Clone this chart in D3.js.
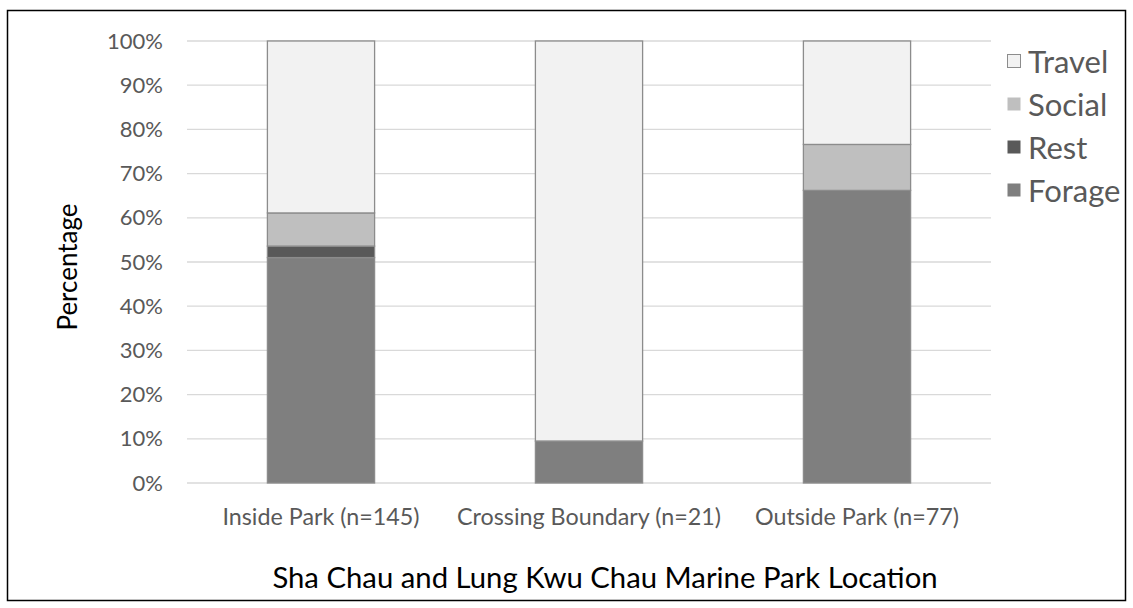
<!DOCTYPE html>
<html><head><meta charset="utf-8">
<script src="https://cdn.jsdelivr.net/npm/d3@7/dist/d3.min.js"></script>
<style>body{margin:0;background:#fff}svg{display:block}</style>
</head><body><svg id="c" width="1133" height="608"></svg>
<script>
const categories = ["Inside Park (n=145)", "Crossing Boundary (n=21)", "Outside Park (n=77)"];
const seriesNames = ["Forage", "Rest", "Social", "Travel"];
const forage = [51.0, 9.5, 66.2];
const rest = [2.6, 0, 0];
const social = [7.5, 0, 10.4];
const travel = [38.9, 90.5, 23.4];
const yTicks = [0,10,20,30,40,50,60,70,80,90,100];
const colors = {Forage:"#7f7f7f", Rest:"#595959", Social:"#bfbfbf", Travel:"#f2f2f2"};
const legendOrder = ["Travel","Social","Rest","Forage"];

const svg = d3.select("#c");
const font = "Lato, 'Open Sans', sans-serif";
svg.append("rect").attr("x",7.5).attr("y",10.5).attr("width",1118).attr("height",590)
  .attr("fill","#fff").attr("stroke","#000").attr("stroke-width",1.5);

const m = {left:187, right:991, top:41, bottom:483};
const x = d3.scaleBand().domain(categories).range([m.left,m.right]).paddingInner(0.6).paddingOuter(0.3);
const y = d3.scaleLinear().domain([0,100]).range([m.bottom,m.top]);

const g = svg.append("g");
g.selectAll("line.grid").data(yTicks).join("line")
  .attr("x1",m.left).attr("x2",m.right).attr("y1",d=>y(d)).attr("y2",d=>y(d))
  .attr("stroke","#d9d9d9").attr("stroke-width",1.3);

const yAxis = d3.axisLeft(y).tickValues(yTicks).tickFormat(d=>d+"%").tickSize(0).tickPadding(0);
const ya = svg.append("g").attr("transform",`translate(${m.left-24},0)`).call(yAxis);
ya.select(".domain").remove();
ya.selectAll("text").attr("font-family",font).attr("font-size",22).attr("fill","#595959");

const table = categories.map((c,i)=>({cat:c, Forage:forage[i], Rest:rest[i], Social:social[i], Travel:travel[i]}));
const stacked = d3.stack().keys(seriesNames)(table);
svg.append("g").selectAll("g").data(stacked).join("g")
  .attr("fill",d=>colors[d.key])
  .selectAll("rect").data(d=>d.filter(p=>p[1]-p[0]>0)).join("rect")
  .attr("x",d=>x(d.data.cat)).attr("width",x.bandwidth())
  .attr("y",d=>y(d[1])).attr("height",d=>y(d[0])-y(d[1]))
  .attr("stroke","#8c8c8c").attr("stroke-width",1.3);

const xAxis = d3.axisBottom(x).tickSize(0).tickPadding(0);
const xa = svg.append("g").attr("transform",`translate(0,${m.bottom+34})`).call(xAxis);
xa.select(".domain").remove();
xa.selectAll("text").attr("font-family",font).attr("font-size",23.3).attr("fill","#595959").attr("dy","0.35em");

svg.append("text").attr("x",605).attr("y",588).attr("text-anchor","middle")
  .attr("font-family",font).attr("font-size",29.3).attr("fill","#000")
  .text("Sha Chau and Lung Kwu Chau Marine Park Location");
svg.append("text").attr("transform","translate(77,267) rotate(-90)").attr("text-anchor","middle")
  .attr("font-family",font).attr("font-size",26).attr("fill","#000").text("Percentage");

const lg = svg.append("g").selectAll("g").data(legendOrder).join("g")
  .attr("transform",(d,i)=>`translate(1007,${62+i*43})`);
lg.append("rect").attr("x",0.5).attr("y",-7.5).attr("width",13).attr("height",13)
  .attr("fill",d=>colors[d]).attr("stroke",d=>d==="Travel"?"#8c8c8c":"none");
lg.append("text").attr("x",21).attr("y",0).attr("dy","0.35em")
  .attr("font-family",font).attr("font-size",31).attr("fill","#595959").text(d=>d);
</script></body></html>
